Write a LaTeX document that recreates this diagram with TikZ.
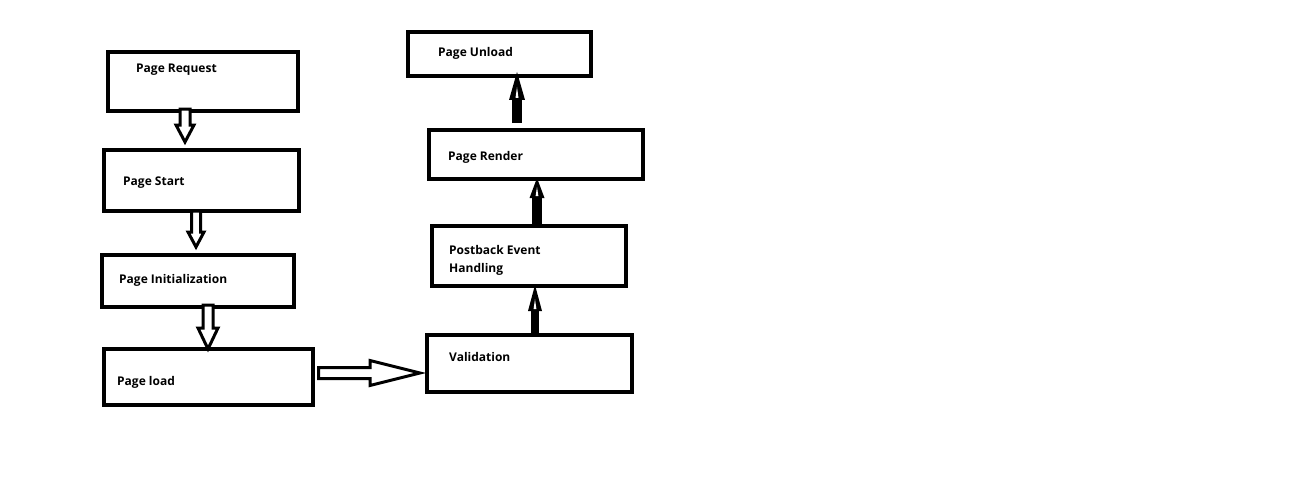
\documentclass[tikz,border=0pt]{standalone}
\usepackage{fontspec}
\setmainfont{Open Sans}
\usetikzlibrary{calc}
\tikzset{
  box/.style={draw=black, line width=4pt, outer sep=2pt, inner sep=0pt},
  lbl/.style={anchor=base west, inner sep=0pt, align=left, font=\bfseries\fontsize{12}{18}\selectfont},
  hollow/.style={draw=black, line width=3pt, line join=miter, fill=white},
  shaft/.style={draw=black, line width=9pt},
  solidhead/.style={fill=black},
  slit/.style={fill=white}
}
\begin{document}
\begin{tikzpicture}[x=1pt, y=-1pt]
\useasboundingbox (0,0) rectangle (1294,487);
% boxes
\node[box, minimum width=190pt, minimum height=59pt] (req) at (203,81.5) {};
\node[box, minimum width=195pt, minimum height=61pt] (start) at (201.5,180.5) {};
\node[box, minimum width=192pt, minimum height=52pt] (init) at (198,281) {};
\node[box, minimum width=209pt, minimum height=56pt] (load) at (208.5,377) {};
\node[box, minimum width=205pt, minimum height=57pt] (valid) at (529.5,363.5) {};
\node[box, minimum width=194pt, minimum height=60pt] (post) at (529,256) {};
\node[box, minimum width=214pt, minimum height=49pt] (render) at (536,154.5) {};
\node[box, minimum width=183pt, minimum height=44pt] (unload) at (499.5,54) {};
% labels
\node[lbl] (reqt) at (136,73) {Page Request};
\node[lbl] (startt) at (123,185) {Page Start};
\node[lbl] (initt) at (119,283) {Page Initialization};
\node[lbl] (loadt) at (117,385) {Page load};
\node[lbl] (validt) at (449,361) {Validation};
\node[lbl] (postt) at (449,272) {Postback Event\\Handling};
\node[lbl] (rendert) at (448,160) {Page Render};
\node[lbl] (unloadt) at (438,57) {Page Unload};
% hollow down arrows
\draw[hollow] let \p1=(req.south), \p2=(start.north) in
  (180pt,\y1+4pt) -- (180pt,\y2+23pt) -- (176pt,\y2+23pt) -- (185pt,\y2+6pt)
  -- (194pt,\y2+23pt) -- (190pt,\y2+23pt) -- (190pt,\y1+4pt) -- cycle;
\draw[hollow] let \p1=(start.south), \p2=(init.north) in
  (191.5pt,\y1+2pt) -- (191.5pt,\y2+21pt) -- (188pt,\y2+21pt) -- (196pt,\y2+6pt)
  -- (204pt,\y2+21pt) -- (200.5pt,\y2+21pt) -- (200.5pt,\y1+2pt) -- cycle;
\draw[hollow] let \p1=(init.south), \p2=(load.north) in
  (203pt,\y1+4pt) -- (203pt,\y2+19pt) -- (198pt,\y2+19pt) -- (208pt,\y2-2pt)
  -- (218pt,\y2+19pt) -- (213pt,\y2+19pt) -- (213pt,\y1+4pt) -- cycle;
% hollow right arrow
\draw[hollow] let \p1=(load.east), \p2=(valid.west) in
  (\x1+3.5pt,-367.5pt) -- (370pt,-367.5pt) -- (370pt,-360.5pt) -- (\x2-5pt,-373pt)
  -- (370pt,-385.5pt) -- (370pt,-378.5pt) -- (\x1+3.5pt,-378.5pt) -- cycle;
% solid up arrows
\draw[shaft, line width=8pt] let \p1=(valid.north) in (535pt,\y1-2pt) -- (535pt,-310pt);
\fill[solidhead] let \p2=(post.south) in (528pt,-311pt) -- (535pt,\y2+3pt) -- (542pt,-311pt) -- cycle;
\fill[slit] (533.6pt,-309pt) -- (535pt,-299pt) -- (536.4pt,-309pt) -- cycle;
\draw[shaft, line width=10pt] let \p1=(post.north) in (537pt,\y1-2pt) -- (537pt,-197pt);
\fill[solidhead] let \p2=(render.south) in (529.5pt,-198pt) -- (537pt,\y2+3pt) -- (544.5pt,-198pt) -- cycle;
\fill[slit] (535.6pt,-196pt) -- (537pt,-187pt) -- (538.4pt,-196pt) -- cycle;
\draw[shaft, line width=10pt] let \p1=(render.north) in (517pt,\y1+5pt) -- (517pt,-99pt);
\fill[solidhead] let \p2=(unload.south) in (509pt,-100pt) -- (517pt,\y2+6pt) -- (525pt,-100pt) -- cycle;
\fill[slit] (515.5pt,-98pt) -- (517pt,-87pt) -- (518.5pt,-98pt) -- cycle;
\end{tikzpicture}
\end{document}
